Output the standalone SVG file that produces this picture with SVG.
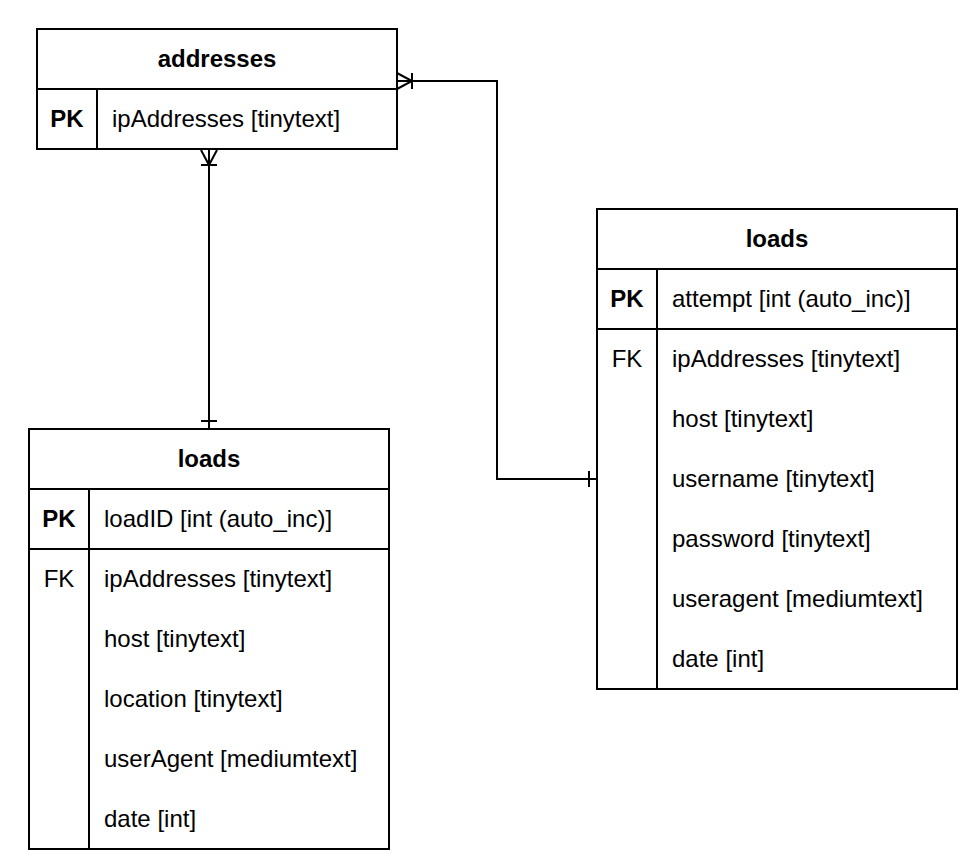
<svg xmlns="http://www.w3.org/2000/svg" width="970" height="864" viewBox="0 0 970 864">
<style>
.box{fill:#fff;stroke:#000;stroke-width:2}
.ln{stroke:#000;stroke-width:2;fill:none}
.h{font-family:"Liberation Sans",Arial,sans-serif;font-size:24px;font-weight:bold;text-anchor:middle}
.k{font-family:"Liberation Sans",Arial,sans-serif;font-size:24px;text-anchor:middle}
.kb{font-family:"Liberation Sans",Arial,sans-serif;font-size:24px;font-weight:bold;text-anchor:middle}
.t{font-family:"Liberation Sans",Arial,sans-serif;font-size:24px}
</style>
<rect width="970" height="864" fill="#fff"/>
<g id="connectors">
<path class="ln" d="M397,81 H497 V479 H597"/>
<path class="ln" d="M397,73 L412,81 L397,89 M412,73 V89"/>
<line class="ln" x1="589" y1="471" x2="589" y2="487"/>
<path class="ln" d="M209,149 V429"/>
<path class="ln" d="M201,150 L209,165 L217,150 M201,165 H217"/>
<line class="ln" x1="201" y1="421" x2="217" y2="421"/>
</g>
<g id="addresses">
<rect class="box" x="37" y="29" width="360" height="120"/>
<line class="ln" x1="37" y1="89" x2="397" y2="89"/>
<line class="ln" x1="97" y1="89" x2="97" y2="149"/>
<text class="h" x="217" y="67">addresses</text>
<text class="kb" x="67" y="127">PK</text>
<text class="t" x="112" y="127">ipAddresses [tinytext]</text>
</g>
<g id="loads-left">
<rect class="box" x="29" y="429" width="360" height="420"/>
<line class="ln" x1="29" y1="489" x2="389" y2="489"/>
<line class="ln" x1="29" y1="549" x2="389" y2="549"/>
<line class="ln" x1="89" y1="489" x2="89" y2="849"/>
<text class="h" x="209" y="467">loads</text>
<text class="kb" x="59" y="527">PK</text>
<text class="t" x="104" y="527">loadID [int (auto_inc)]</text>
<text class="k" x="59" y="587">FK</text>
<text class="t" x="104" y="587">ipAddresses [tinytext]</text>
<text class="t" x="104" y="647">host [tinytext]</text>
<text class="t" x="104" y="707">location [tinytext]</text>
<text class="t" x="104" y="767">userAgent [mediumtext]</text>
<text class="t" x="104" y="827">date [int]</text>
</g>
<g id="loads-right">
<rect class="box" x="597" y="209" width="360" height="480"/>
<line class="ln" x1="597" y1="269" x2="957" y2="269"/>
<line class="ln" x1="597" y1="329" x2="957" y2="329"/>
<line class="ln" x1="657" y1="269" x2="657" y2="689"/>
<text class="h" x="777" y="247">loads</text>
<text class="kb" x="627" y="307">PK</text>
<text class="t" x="672" y="307">attempt [int (auto_inc)]</text>
<text class="k" x="627" y="367">FK</text>
<text class="t" x="672" y="367">ipAddresses [tinytext]</text>
<text class="t" x="672" y="427">host [tinytext]</text>
<text class="t" x="672" y="487">username [tinytext]</text>
<text class="t" x="672" y="547">password [tinytext]</text>
<text class="t" x="672" y="607">useragent [mediumtext]</text>
<text class="t" x="672" y="667">date [int]</text>
</g>
</svg>
